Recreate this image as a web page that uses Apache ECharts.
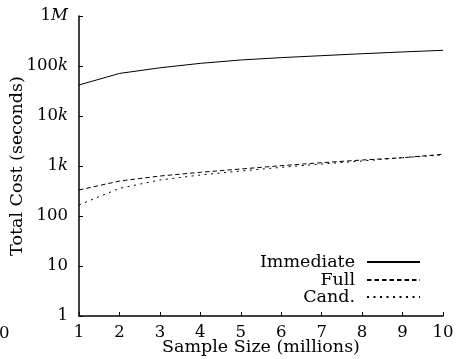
<!DOCTYPE html>
<html>
<head>
<meta charset="utf-8">
<script src="https://cdn.jsdelivr.net/npm/echarts@6/dist/echarts.min.js"></script>
<style>html,body{margin:0;padding:0;background:#fff}#c{width:456px;height:359px}</style>
</head>
<body>
<div id="c"></div>
<script>
var sampleSizes = [1, 2, 3, 4, 5, 6, 7, 8, 9, 10];
var immediate = [41700, 71000, 92000, 113000, 132000, 147000, 161000, 176000, 191000, 206000];
var full = [331, 500, 630, 748, 871, 1015, 1165, 1318, 1466, 1714];
var cand = [166, 357, 525, 661, 794, 940, 1096, 1259, 1466, 1660];
var seriesNames = ['Immediate', 'Full', 'Cand.'];
var yTickValues = [1, 10, 100, 1000, 10000, 100000, 1000000];
var yTickLabels = ['1', '10', '100', '1k', '10k', '100k', '1M'];

var FONT = 'DejaVu Serif';
var FS = 16.5;
var FN = 17.5;
function pairs(ys) { return sampleSizes.map(function (x, i) { return [x, ys[i]]; }); }
var dashes = ['solid', [4.5, 3], [2, 4.5]];
var values = [immediate, full, cand];

var chart = echarts.init(document.getElementById('c'), null, {renderer: 'canvas'});
var legends = seriesNames.map(function (n, i) {
  return {
    data: [n], right: 35, top: [253, 271, 288][i], orient: 'horizontal', align: 'right',
    itemWidth: 53, itemHeight: 14, padding: 0, selectedMode: false,
    itemStyle: {opacity: 0},
    textStyle: {fontFamily: FONT, fontSize: FN, color: '#000', padding: [0, 7, 0, 0]}
  };
});
chart.setOption({
  animation: false,
  textStyle: {fontFamily: FONT},
  grid: {left: 79, right: 13, top: 16, bottom: 43, containLabel: false, outerBoundsMode: 'none'},
  legend: legends,
  graphic: [{type: 'text', left: -1, top: 325, style: {text: '0', font: FS + 'px "' + FONT + '"', fill: '#000'}}],
  xAxis: {
    type: 'value', min: 1, max: 10, interval: 1,
    name: 'Sample Size (millions)', nameLocation: 'middle', nameGap: 22, nameMoveOverlap: false,
    nameTextStyle: {fontFamily: FONT, fontSize: FN, color: '#000'},
    axisLine: {lineStyle: {color: '#000', width: 1.5}},
    axisTick: {inside: true, length: 4, lineStyle: {color: '#000', width: 1}},
    axisLabel: {fontFamily: FONT, fontSize: FS, color: '#000', margin: 8},
    splitLine: {show: false}
  },
  yAxis: {
    type: 'log', logBase: 10, min: 1, max: 1000000,
    name: 'Total Cost (seconds)', nameLocation: 'middle', nameGap: 53, nameRotate: 90, nameMoveOverlap: false,
    nameTextStyle: {fontFamily: FONT, fontSize: FN, color: '#000'},
    axisLine: {show: true, lineStyle: {color: '#000', width: 1.5}},
    axisTick: {inside: true, length: 4, lineStyle: {color: '#000', width: 1}},
    axisLabel: {
      fontFamily: FONT, fontSize: FS, color: '#000', margin: 11,
      formatter: function (v) {
        var idx = yTickValues.findIndex(function (t) { return Math.abs(Math.log10(t) - Math.log10(v)) < 1e-6; });
        var s = idx >= 0 ? yTickLabels[idx] : String(v);
        return s.replace(/([kM])$/, '{i|$1}');
      },
      rich: {i: {fontFamily: FONT, fontSize: FS, fontStyle: 'italic', color: '#000'}}
    },
    splitLine: {show: false}
  },
  series: seriesNames.map(function (n, i) {
    return {
      name: n, type: 'line', data: pairs(values[i]), symbol: 'none', showSymbol: false,
      lineStyle: {color: '#000', width: 1, type: dashes[i]}, itemStyle: {color: '#000'}
    };
  })
});
</script>
</body>
</html>
